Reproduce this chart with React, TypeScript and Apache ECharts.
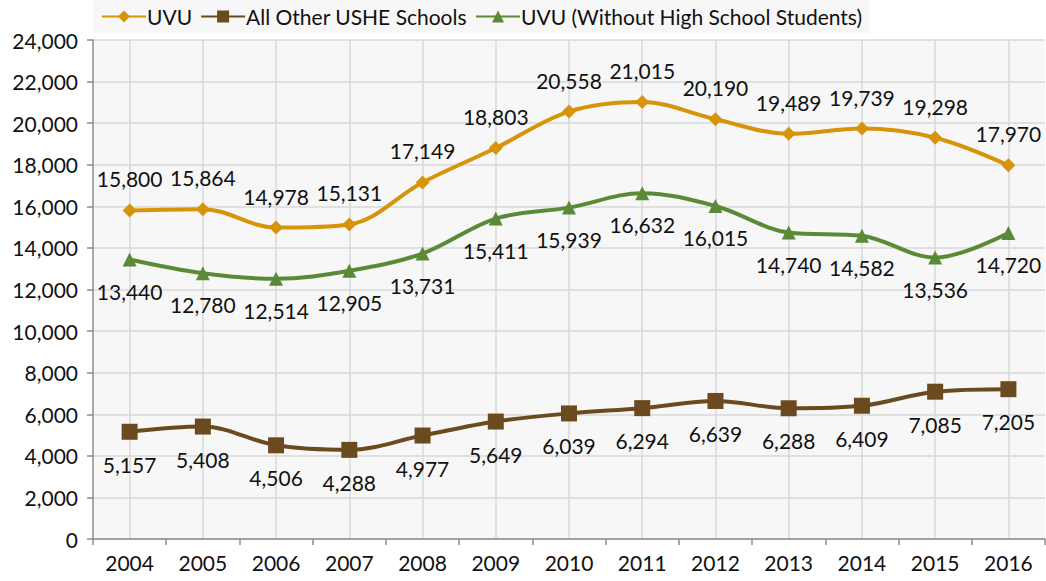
import React, { useEffect, useRef } from "react";
import * as echarts from "echarts";

const years = ["2004","2005","2006","2007","2008","2009","2010","2011","2012","2013","2014","2015","2016"];
const uvu = [15800,15864,14978,15131,17149,18803,20558,21015,20190,19489,19739,19298,17970];
const otherUshe = [5157,5408,4506,4288,4977,5649,6039,6294,6639,6288,6409,7085,7205];
const uvuNoHs = [13440,12780,12514,12905,13731,15411,15939,16632,16015,14740,14582,13536,14720];
const seriesNames = ["UVU", "All Other USHE Schools", "UVU (Without High School Students)"];
const colors = ["#d7940b", "#6b4a1f", "#5b8a37"];

const FONT = "Lato, 'Open Sans', sans-serif";
const FS = 21;
const fmt = (v: number) => v.toLocaleString("en-US");

export default function App() {
  const ref = useRef<HTMLDivElement>(null);
  useEffect(() => {
    if (!ref.current) return;
    const chart = echarts.init(ref.current, null, { renderer: "svg" });
    const label = (pos: string) => ({
      show: true,
      position: pos,
      distance: 14,
      fontSize: FS,
      fontFamily: FONT,
      color: "#111",
      formatter: (p: any) => fmt(p.value),
    });
    chart.setOption({
      animation: false,
      backgroundColor: "#ffffff",
      color: colors,
      legend: {
        data: seriesNames,
        left: 93,
        top: 0,
        padding: [6, 8, 6, 8],
        backgroundColor: "#f7f7f7",
        itemWidth: 44,
        itemHeight: 15,
        itemGap: 8,
        textStyle: { fontSize: FS, fontFamily: FONT, color: "#111", padding: [0, 0, 0, -4] },
      },
      grid: {
        left: 93,
        right: 1,
        top: 40,
        bottom: 42,
        show: true,
        backgroundColor: "#f7f7f7",
        borderWidth: 0,
      },
      xAxis: {
        type: "category",
        data: years,
        boundaryGap: true,
        axisLine: { show: true, lineStyle: { color: "#8c8c8c", width: 1.5 } },
        axisTick: { show: true, length: 6, lineStyle: { color: "#8c8c8c", width: 1.5 } },
        axisLabel: { fontSize: FS, fontFamily: FONT, color: "#111", margin: 13 },
        splitLine: { show: true, alignWithLabel: true, lineStyle: { color: "#d9d9d9", width: 1.5 } },
      },
      yAxis: {
        type: "value",
        min: 0,
        max: 24000,
        interval: 2000,
        axisLine: { show: true, lineStyle: { color: "#8c8c8c", width: 1.5 } },
        axisTick: { show: true, length: 6, lineStyle: { color: "#8c8c8c", width: 1.5 } },
        axisLabel: { fontSize: FS, fontFamily: FONT, color: "#111", margin: 15, formatter: (v: number) => fmt(v) },
        splitLine: { show: true, lineStyle: { color: "#d9d9d9", width: 1.5 } },
      },
      series: [
        {
          name: seriesNames[0],
          type: "line",
          data: uvu,
          smooth: 0.35,
          symbol: "diamond",
          symbolSize: 14,
          lineStyle: { width: 4, color: colors[0] },
          itemStyle: { color: colors[0] },
          label: label("top"),
        },
        {
          name: seriesNames[1],
          type: "line",
          data: otherUshe,
          smooth: 0.35,
          symbol: "rect",
          symbolSize: 16,
          lineStyle: { width: 4, color: colors[1] },
          itemStyle: { color: colors[1] },
          label: label("bottom"),
        },
        {
          name: seriesNames[2],
          type: "line",
          data: uvuNoHs,
          smooth: 0.35,
          symbol: "triangle",
          symbolSize: 14,
          lineStyle: { width: 4, color: colors[2] },
          itemStyle: { color: colors[2] },
          label: label("bottom"),
        },
      ],
    });
    return () => chart.dispose();
  }, []);
  return <div ref={ref} style={{ width: 1046, height: 581, position: "absolute", left: 0, top: 0 }} />;
}
